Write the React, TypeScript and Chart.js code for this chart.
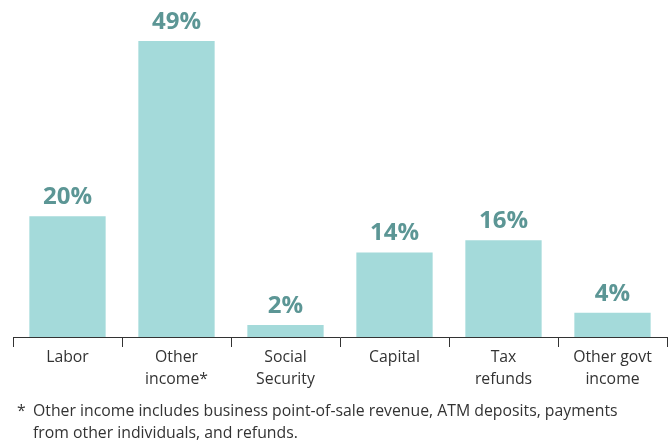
import React, { useEffect, useRef } from "react";
import { Chart, registerables } from "chart.js";

Chart.register(...registerables);

const categories: string[][] = [
  ["Labor"],
  ["Other", "income*"],
  ["Social", "Security"],
  ["Capital"],
  ["Tax", "refunds"],
  ["Other govt", "income"],
];
const values: number[] = [20, 49, 2, 14, 16, 4];
const footnoteLines: string[] = [
  "Other income includes business point-of-sale revenue, ATM deposits, payments",
  "from other individuals, and refunds.",
];

const FONT = "'Open Sans', 'DejaVu Sans', sans-serif";

const valueLabelPlugin = {
  id: "valueLabels",
  afterDatasetsDraw(chart: any) {
    const ctx = chart.ctx;
    const meta = chart.getDatasetMeta(0);
    ctx.save();
    ctx.font = `bold 24px ${FONT}`;
    ctx.fillStyle = "#5c9695";
    ctx.textAlign = "center";
    ctx.textBaseline = "alphabetic";
    meta.data.forEach((bar: any, i: number) => {
      ctx.fillText(`${values[i]}%`, bar.x, bar.y - 12);
    });
    ctx.restore();
  },
};

export default function App() {
  const ref = useRef<HTMLCanvasElement>(null);
  useEffect(() => {
    if (!ref.current) return;
    const chart = new Chart(ref.current, {
      type: "bar",
      data: {
        labels: categories,
        datasets: [
          {
            data: values,
            backgroundColor: "#a4dada",
            categoryPercentage: 0.7,
            barPercentage: 1,
          },
        ],
      },
      options: {
        animation: false,
        responsive: false,
        maintainAspectRatio: false,
        layout: { padding: { left: 13, right: 5, top: 0, bottom: 0 } },
        plugins: { legend: { display: false }, tooltip: { enabled: false } },
        scales: {
          x: {
            grid: {
              offset: true,
              drawOnChartArea: false,
              drawTicks: true,
              tickLength: 10,
              color: "#333",
            },
            border: { display: true, color: "#333", width: 1 },
            ticks: {
              font: { family: FONT, size: 15.8, lineHeight: 1.35 },
              color: "#333",
              padding: 0,
              maxRotation: 0,
              autoSkip: false,
            },
            afterFit: (s: any) => {
              s.height = 107;
            },
          },
          y: {
            display: false,
            min: 0,
            max: 55.8,
          },
        },
      },
      plugins: [valueLabelPlugin],
    });
    return () => chart.destroy();
  }, []);

  return (
    <div style={{ position: "absolute", left: 0, top: 0, width: 672, height: 444 }}>
      <canvas ref={ref} width={672} height={444} style={{ width: 672, height: 444 }} />
      <div
        style={{
          position: "absolute",
          left: 17,
          top: 399,
          fontFamily: FONT,
          fontSize: 15.8,
          lineHeight: "22px",
          color: "#333",
        }}
      >
        <div style={{ position: "relative", paddingLeft: 16 }}>
          <span style={{ position: "absolute", left: 0 }}>*</span>
          {footnoteLines.map((l, i) => (
            <div key={i}>{l}</div>
          ))}
        </div>
      </div>
    </div>
  );
}
